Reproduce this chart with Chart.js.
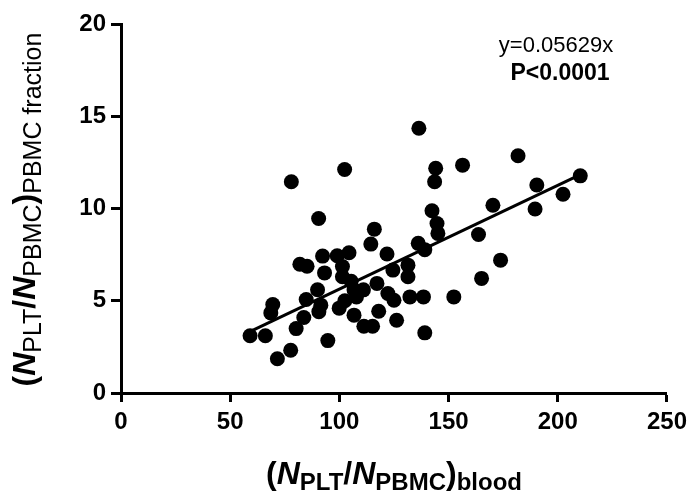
<!DOCTYPE html>
<html>
<head>
<meta charset="utf-8">
<script src="https://cdn.jsdelivr.net/npm/chart.js@4"></script>
<style>
  html, body { margin: 0; padding: 0; background: #fff; }
  #wrap { width: 693px; height: 491px; position: relative; }
  canvas { display: block; }
</style>
</head>
<body>
<div id="wrap"><canvas id="c" width="693" height="491"></canvas></div>
<script>
// ---- data ----
const bloodRatio = [59.1,66.1,69.5,68.6,71.6,77.7,80.2,83.7,84.8,81.9,85.2,78.0,90.5,90.0,91.5,90.6,92.3,93.2,94.7,99.0,104.4,114.4,102.4,101.4,101.4,105.4,106.7,111.0,102.5,99.9,106.7,107.8,111.2,115.2,117.2,118.0,121.8,124.5,122.2,125.0,126.2,131.4,131.4,132.3,138.5,139.1,136.1,139.1,152.4,116.0,136.4,144.1,143.6,156.4,181.8,210.3,190.4,202.4,189.6,170.3,142.4,144.7,145.1,163.7,173.8,165.1];
const fractionRatio = [3.10,3.10,4.79,4.34,1.86,2.32,3.49,4.09,5.07,6.98,6.87,11.45,9.46,5.60,4.76,4.41,7.42,6.51,2.84,7.44,7.60,8.07,12.11,6.85,6.30,6.06,5.60,5.59,5.00,4.60,4.22,5.21,3.62,3.62,5.94,4.43,7.53,6.66,5.39,5.03,3.94,6.93,6.30,5.21,5.21,3.26,8.11,7.77,5.21,8.88,14.35,12.18,11.45,12.35,12.86,11.77,11.27,10.77,9.97,10.18,9.88,9.19,8.65,8.59,7.20,6.21];
const fitX = [60, 212];
const fitY = [3.38, 11.93];
const xTicks = [0, 50, 100, 150, 200, 250];
const yTicks = [0, 5, 10, 15, 20];
const equationText = "y=0.05629x";
const pText = "P<0.0001";

const FAM = '"Liberation Sans", Arial, Helvetica, sans-serif';

const points = bloodRatio.map((x, i) => ({ x: x, y: fractionRatio[i] }));
const fitLine = fitX.map((x, i) => ({ x: x, y: fitY[i] }));

function drawRich(ctx, segs, cx, by) {
  let total = 0;
  segs.forEach(s => { ctx.font = s.font; s.w = ctx.measureText(s.text).width; total += s.w; });
  let x = cx - total / 2;
  segs.forEach(s => { ctx.font = s.font; ctx.fillText(s.text, x, by + (s.dy || 0)); x += s.w; });
}

const MAIN = 'bold 32px ' + FAM;
const MAIN_I = 'italic bold 32px ' + FAM;
const SUB_B = 'bold 24px ' + FAM;
const SUB_R = '25px ' + FAM;

const xTitle = [
  { text: '(', font: MAIN }, { text: 'N', font: MAIN_I }, { text: 'PLT', font: SUB_B, dy: 6 },
  { text: '/', font: MAIN }, { text: 'N', font: MAIN_I }, { text: 'PBMC', font: SUB_B, dy: 6 },
  { text: ')', font: MAIN }, { text: 'blood', font: SUB_B, dy: 6 }
];
const yTitle = [
  { text: '(', font: MAIN }, { text: 'N', font: MAIN_I }, { text: 'PLT', font: SUB_R, dy: 6 },
  { text: '/', font: MAIN }, { text: 'N', font: MAIN_I }, { text: 'PBMC', font: SUB_R, dy: 6 },
  { text: ')', font: MAIN }, { text: 'PBMC fraction', font: SUB_R, dy: 6 }
];

const richText = {
  id: 'richText',
  afterDraw(chart) {
    const ctx = chart.ctx;
    const ca = chart.chartArea;
    ctx.save();
    ctx.fillStyle = '#000';
    ctx.textBaseline = 'alphabetic';
    drawRich(ctx, xTitle, (ca.left + ca.right) / 2, 484);
    ctx.save();
    ctx.translate(35, (ca.top + ca.bottom) / 2 + 1);
    ctx.rotate(-Math.PI / 2);
    drawRich(ctx, yTitle, 0, 0);
    ctx.restore();
    ctx.textAlign = 'center';
    ctx.font = '22px ' + FAM;
    ctx.fillText(equationText, 556, 52);
    ctx.font = 'bold 23px ' + FAM;
    ctx.fillText(pText, 560, 80);
    ctx.restore();
  }
};

new Chart(document.getElementById('c'), {
  type: 'scatter',
  data: {
    datasets: [
      {
        data: fitLine, showLine: true, borderColor: '#000', borderWidth: 3,
        pointRadius: 0, fill: false, order: 0
      },
      {
        data: points, backgroundColor: '#000', borderWidth: 0,
        pointRadius: 7.5, pointHoverRadius: 7.5, order: 1
      }
    ]
  },
  options: {
    responsive: false,
    animation: false,
    devicePixelRatio: 1,
    layout: { padding: { left: 0, right: 20, top: 24, bottom: 0 } },
    plugins: { legend: { display: false }, tooltip: { enabled: false } },
    scales: {
      x: {
        type: 'linear', min: xTicks[0], max: xTicks[xTicks.length - 1],
        afterBuildTicks(s) { s.ticks = xTicks.map(v => ({ value: v })); },
        ticks: { color: '#000', font: { family: FAM, size: 24, weight: 'bold' }, padding: 6, maxRotation: 0 },
        grid: { drawOnChartArea: false, drawTicks: true, tickLength: 9, tickWidth: 3, tickColor: '#000' },
        border: { display: true, color: '#000', width: 3 },
        afterFit(s) { s.height = 98; }
      },
      y: {
        type: 'linear', min: yTicks[0], max: yTicks[yTicks.length - 1],
        afterBuildTicks(s) { s.ticks = yTicks.map(v => ({ value: v })); },
        ticks: { color: '#000', font: { family: FAM, size: 24, weight: 'bold' }, padding: 5 },
        grid: { drawOnChartArea: false, drawTicks: true, tickLength: 10, tickWidth: 3, tickColor: '#000' },
        border: { display: true, color: '#000', width: 3 },
        afterFit(s) { s.width = 121; }
      }
    }
  },
  plugins: [richText]
});
</script>
</body>
</html>
